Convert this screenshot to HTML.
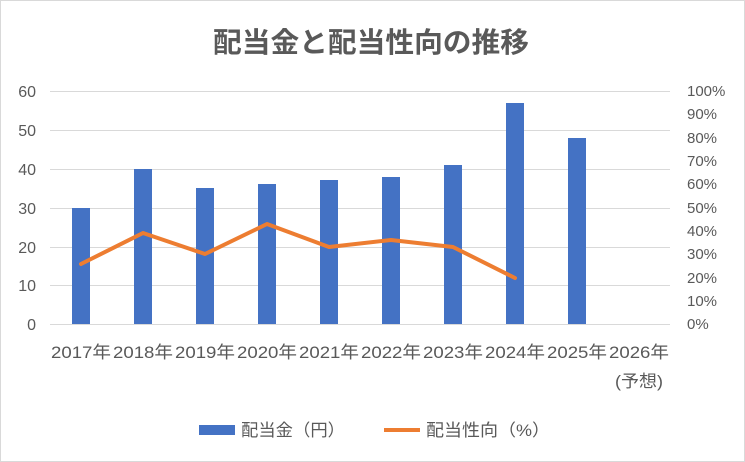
<!DOCTYPE html>
<html><head><meta charset="utf-8"><style>
body{margin:0;background:#fff}
svg{display:block}
text{font-family:"Liberation Sans","Noto Sans CJK JP",sans-serif;fill:#595959}
</style></head><body>
<svg width="745" height="462" viewBox="0 0 745 462">
<rect x="0.5" y="0.5" width="744" height="461" fill="#fff" stroke="#d9d9d9"/>
<text x="371" y="52" font-size="28" font-weight="bold" text-anchor="middle" textLength="316" lengthAdjust="spacingAndGlyphs">配当金と配当性向の推移</text>
<g stroke="#d9d9d9" stroke-width="1">
<line x1="50" x2="670" y1="91.5" y2="91.5"/><line x1="50" x2="670" y1="130.5" y2="130.5"/>
<line x1="50" x2="670" y1="169.5" y2="169.5"/><line x1="50" x2="670" y1="208.5" y2="208.5"/>
<line x1="50" x2="670" y1="247.5" y2="247.5"/><line x1="50" x2="670" y1="285.5" y2="285.5"/>
<line x1="50" x2="670" y1="324.5" y2="324.5"/>
</g>
<g font-size="16" text-anchor="end">
<text x="36" y="97">60</text><text x="36" y="136">50</text><text x="36" y="175">40</text>
<text x="36" y="214">30</text><text x="36" y="253">20</text><text x="36" y="291">10</text><text x="36" y="330">0</text>
</g>
<g font-size="15" text-anchor="start">
<text x="687" y="96">100%</text><text x="687" y="119">90%</text><text x="687" y="143">80%</text>
<text x="687" y="166">70%</text><text x="687" y="189">60%</text><text x="687" y="213">50%</text>
<text x="687" y="236">40%</text><text x="687" y="259">30%</text><text x="687" y="283">20%</text>
<text x="687" y="306">10%</text><text x="687" y="329">0%</text>
</g>
<g fill="#4472c4">
<rect x="72" y="208" width="18" height="116"/>
<rect x="134" y="169" width="18" height="155"/>
<rect x="196" y="188" width="18" height="136"/>
<rect x="258" y="184" width="18" height="140"/>
<rect x="320" y="180" width="18" height="144"/>
<rect x="382" y="177" width="18" height="147"/>
<rect x="444" y="165" width="18" height="159"/>
<rect x="506" y="103" width="18" height="221"/>
<rect x="568" y="138" width="18" height="186"/>
</g>
<polyline points="81,264 143,233 205,254 267,224 329,247 391,240 453,247 515,278" fill="none" stroke="#ed7d31" stroke-width="4" stroke-linejoin="round" stroke-linecap="round"/>
<g font-size="17" text-anchor="middle">
<text x="81" y="358" textLength="60" lengthAdjust="spacingAndGlyphs">2017年</text><text x="143" y="358" textLength="60" lengthAdjust="spacingAndGlyphs">2018年</text><text x="205" y="358" textLength="60" lengthAdjust="spacingAndGlyphs">2019年</text>
<text x="267" y="358" textLength="60" lengthAdjust="spacingAndGlyphs">2020年</text><text x="329" y="358" textLength="60" lengthAdjust="spacingAndGlyphs">2021年</text><text x="391" y="358" textLength="60" lengthAdjust="spacingAndGlyphs">2022年</text>
<text x="453" y="358" textLength="60" lengthAdjust="spacingAndGlyphs">2023年</text><text x="515" y="358" textLength="60" lengthAdjust="spacingAndGlyphs">2024年</text><text x="577" y="358" textLength="60" lengthAdjust="spacingAndGlyphs">2025年</text>
<text x="639" y="358" textLength="60" lengthAdjust="spacingAndGlyphs">2026年</text><text x="639" y="387" textLength="48" lengthAdjust="spacingAndGlyphs">(予想)</text>
</g>
<rect x="199" y="425" width="36" height="10" fill="#4472c4"/>
<text x="241" y="436" font-size="17" textLength="104" lengthAdjust="spacingAndGlyphs">配当金（円）</text>
<line x1="384" x2="420" y1="430" y2="430" stroke="#ed7d31" stroke-width="4"/>
<text x="426" y="436" font-size="17" textLength="124" lengthAdjust="spacingAndGlyphs">配当性向（%）</text>
</svg>
</body></html>
